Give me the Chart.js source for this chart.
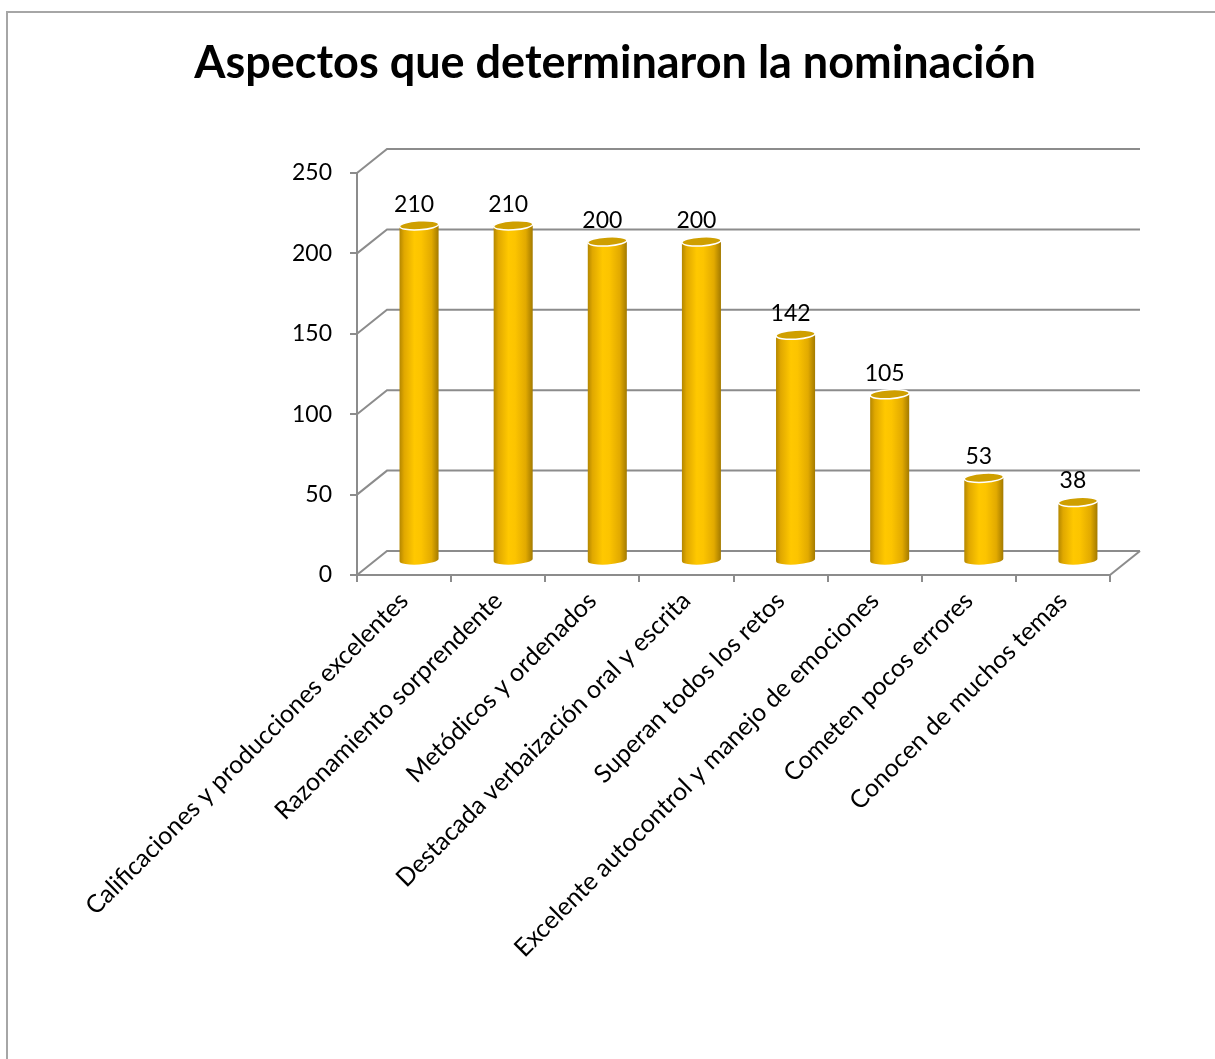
<!DOCTYPE html>
<html lang="es">
<head>
<meta charset="utf-8">
<title>Aspectos que determinaron la nominación</title>
<script src="https://cdn.jsdelivr.net/npm/chart.js@4.4.1/dist/chart.umd.min.js"></script>
<style>
  html, body { margin: 0; padding: 0; background: #fff; }
  #wrap { width: 1215px; height: 1059px; position: relative; }
</style>
</head>
<body>
<div id="wrap"><canvas id="nominacion-chart" width="1215" height="1059"></canvas></div>
<script>
// Categories and counts
const categorias = [
  'Calificaciones y producciones excelentes',
  'Razonamiento sorprendente',
  'Metódicos y ordenados',
  'Destacada verbaización oral y escrita',
  'Superan todos los retos',
  'Excelente autocontrol y manejo de emociones',
  'Cometen pocos errores',
  'Conocen de muchos temas'
];
const valores = [210, 210, 200, 200, 142, 105, 53, 38];
const tituloTexto = 'Aspectos que determinaron la nominación';
const ejeMin = 0;
const ejeMax = 250;
const ejePaso = 50;

// Depth of the fake 3D box (back wall offset)
const DEPTH_X = 30;
const DEPTH_Y = -24;
const GRID_COLOR = '#8c8c8c';
const FONT = 'Lato, "Open Sans", sans-serif';

// White background + outer frame + title
const frameAndTitle = {
  id: 'frameAndTitle',
  beforeDraw(chart) {
    const ctx = chart.ctx;
    ctx.save();
    ctx.fillStyle = '#fff';
    ctx.fillRect(0, 0, chart.width, chart.height);
    ctx.strokeStyle = '#a6a6a6';
    ctx.lineWidth = 2;
    ctx.strokeRect(7, 12, chart.width + 20, chart.height + 20);
    ctx.restore();
  },
  afterDraw(chart) {
    const ctx = chart.ctx;
    ctx.save();
    ctx.font = 'bold 45px ' + FONT;
    ctx.fillStyle = '#000';
    ctx.textAlign = 'center';
    ctx.textBaseline = 'middle';
    ctx.fillText(tituloTexto, 615, 63);
    ctx.restore();
  }
};

// Side wall diagonals, back wall gridlines and floor edge
const walls = {
  id: 'walls',
  beforeDatasetsDraw(chart) {
    const { ctx, chartArea } = chart;
    const y = chart.scales.y;
    ctx.save();
    ctx.strokeStyle = GRID_COLOR;
    ctx.lineWidth = 2;
    y.ticks.forEach(t => {
      const py = y.getPixelForValue(t.value);
      ctx.beginPath();
      ctx.moveTo(chartArea.left, py);
      ctx.lineTo(chartArea.left + DEPTH_X, py + DEPTH_Y);
      ctx.lineTo(chartArea.right + DEPTH_X, py + DEPTH_Y);
      ctx.stroke();
    });
    // right floor edge
    ctx.beginPath();
    ctx.moveTo(chartArea.right, chartArea.bottom);
    ctx.lineTo(chartArea.right + DEPTH_X, chartArea.bottom + DEPTH_Y);
    ctx.stroke();
    ctx.restore();
  }
};

// Cylinders drawn over the (invisible) bar elements, set half way into the box
const cylinders = {
  id: 'cylinders',
  afterDatasetsDraw(chart) {
    const ctx = chart.ctx;
    const meta = chart.getDatasetMeta(0);
    const data = chart.data.datasets[0].data;
    meta.data.forEach((bar, i) => {
      const w = bar.width;
      const rx = w / 2;
      const ry = 4.5;
      const cx = bar.x + DEPTH_X / 2;
      const top = bar.y + DEPTH_Y / 2;
      const base = bar.base + DEPTH_Y / 2 - 2;
      const tilt = -0.06;

      ctx.save();
      const g = ctx.createLinearGradient(cx - rx, 0, cx + rx, 0);
      g.addColorStop(0, '#b48700');
      g.addColorStop(0.12, '#e0a800');
      g.addColorStop(0.38, '#ffc800');
      g.addColorStop(0.55, '#fcc400');
      g.addColorStop(0.82, '#e2aa00');
      g.addColorStop(1, '#a37a00');
      ctx.fillStyle = g;
      ctx.beginPath();
      ctx.moveTo(cx - rx, top);
      ctx.lineTo(cx - rx, base);
      ctx.ellipse(cx, base, rx, ry, tilt, Math.PI, 0, true);
      ctx.lineTo(cx + rx, top);
      ctx.closePath();
      ctx.fill();

      // top cap
      ctx.beginPath();
      ctx.ellipse(cx, top, rx, ry, tilt, 0, Math.PI * 2);
      ctx.fillStyle = '#cf9f00';
      ctx.fill();
      ctx.strokeStyle = '#fff';
      ctx.lineWidth = 1.5;
      ctx.stroke();

      // value label
      ctx.font = '23px ' + FONT;
      ctx.fillStyle = '#000';
      ctx.textAlign = 'center';
      ctx.textBaseline = 'middle';
      ctx.fillText(String(data[i]), cx - 5, top - 21);
      ctx.restore();
    });
  }
};

new Chart(document.getElementById('nominacion-chart'), {
  type: 'bar',
  data: {
    labels: categorias,
    datasets: [{
      data: valores,
      backgroundColor: 'rgba(0,0,0,0)',
      borderWidth: 0,
      categoryPercentage: 1,
      barPercentage: 0.415
    }]
  },
  options: {
    responsive: false,
    animation: false,
    devicePixelRatio: 1,
    layout: { padding: { left: 0, top: 173, right: 105, bottom: 0 } },
    plugins: {
      legend: { display: false },
      title: { display: false },
      tooltip: { enabled: false }
    },
    scales: {
      x: {
        afterFit(scale) { scale.height = 484; },
        grid: {
          offset: true,
          drawOnChartArea: false,
          drawTicks: true,
          tickLength: 7,
          color: GRID_COLOR,
          lineWidth: 2
        },
        border: { color: GRID_COLOR, width: 2 },
        ticks: {
          minRotation: 45,
          maxRotation: 45,
          autoSkip: false,
          padding: 4,
          color: '#000',
          font: { family: FONT, size: 25 }
        }
      },
      y: {
        min: ejeMin,
        max: ejeMax,
        afterFit(scale) { scale.width = 357; },
        grid: {
          drawOnChartArea: false,
          drawTicks: true,
          tickLength: 7,
          color: GRID_COLOR,
          lineWidth: 2
        },
        border: { color: GRID_COLOR, width: 2 },
        ticks: {
          stepSize: ejePaso,
          padding: 18,
          color: '#000',
          font: { family: FONT, size: 23 }
        }
      }
    }
  },
  plugins: [frameAndTitle, walls, cylinders]
});
</script>
</body>
</html>
